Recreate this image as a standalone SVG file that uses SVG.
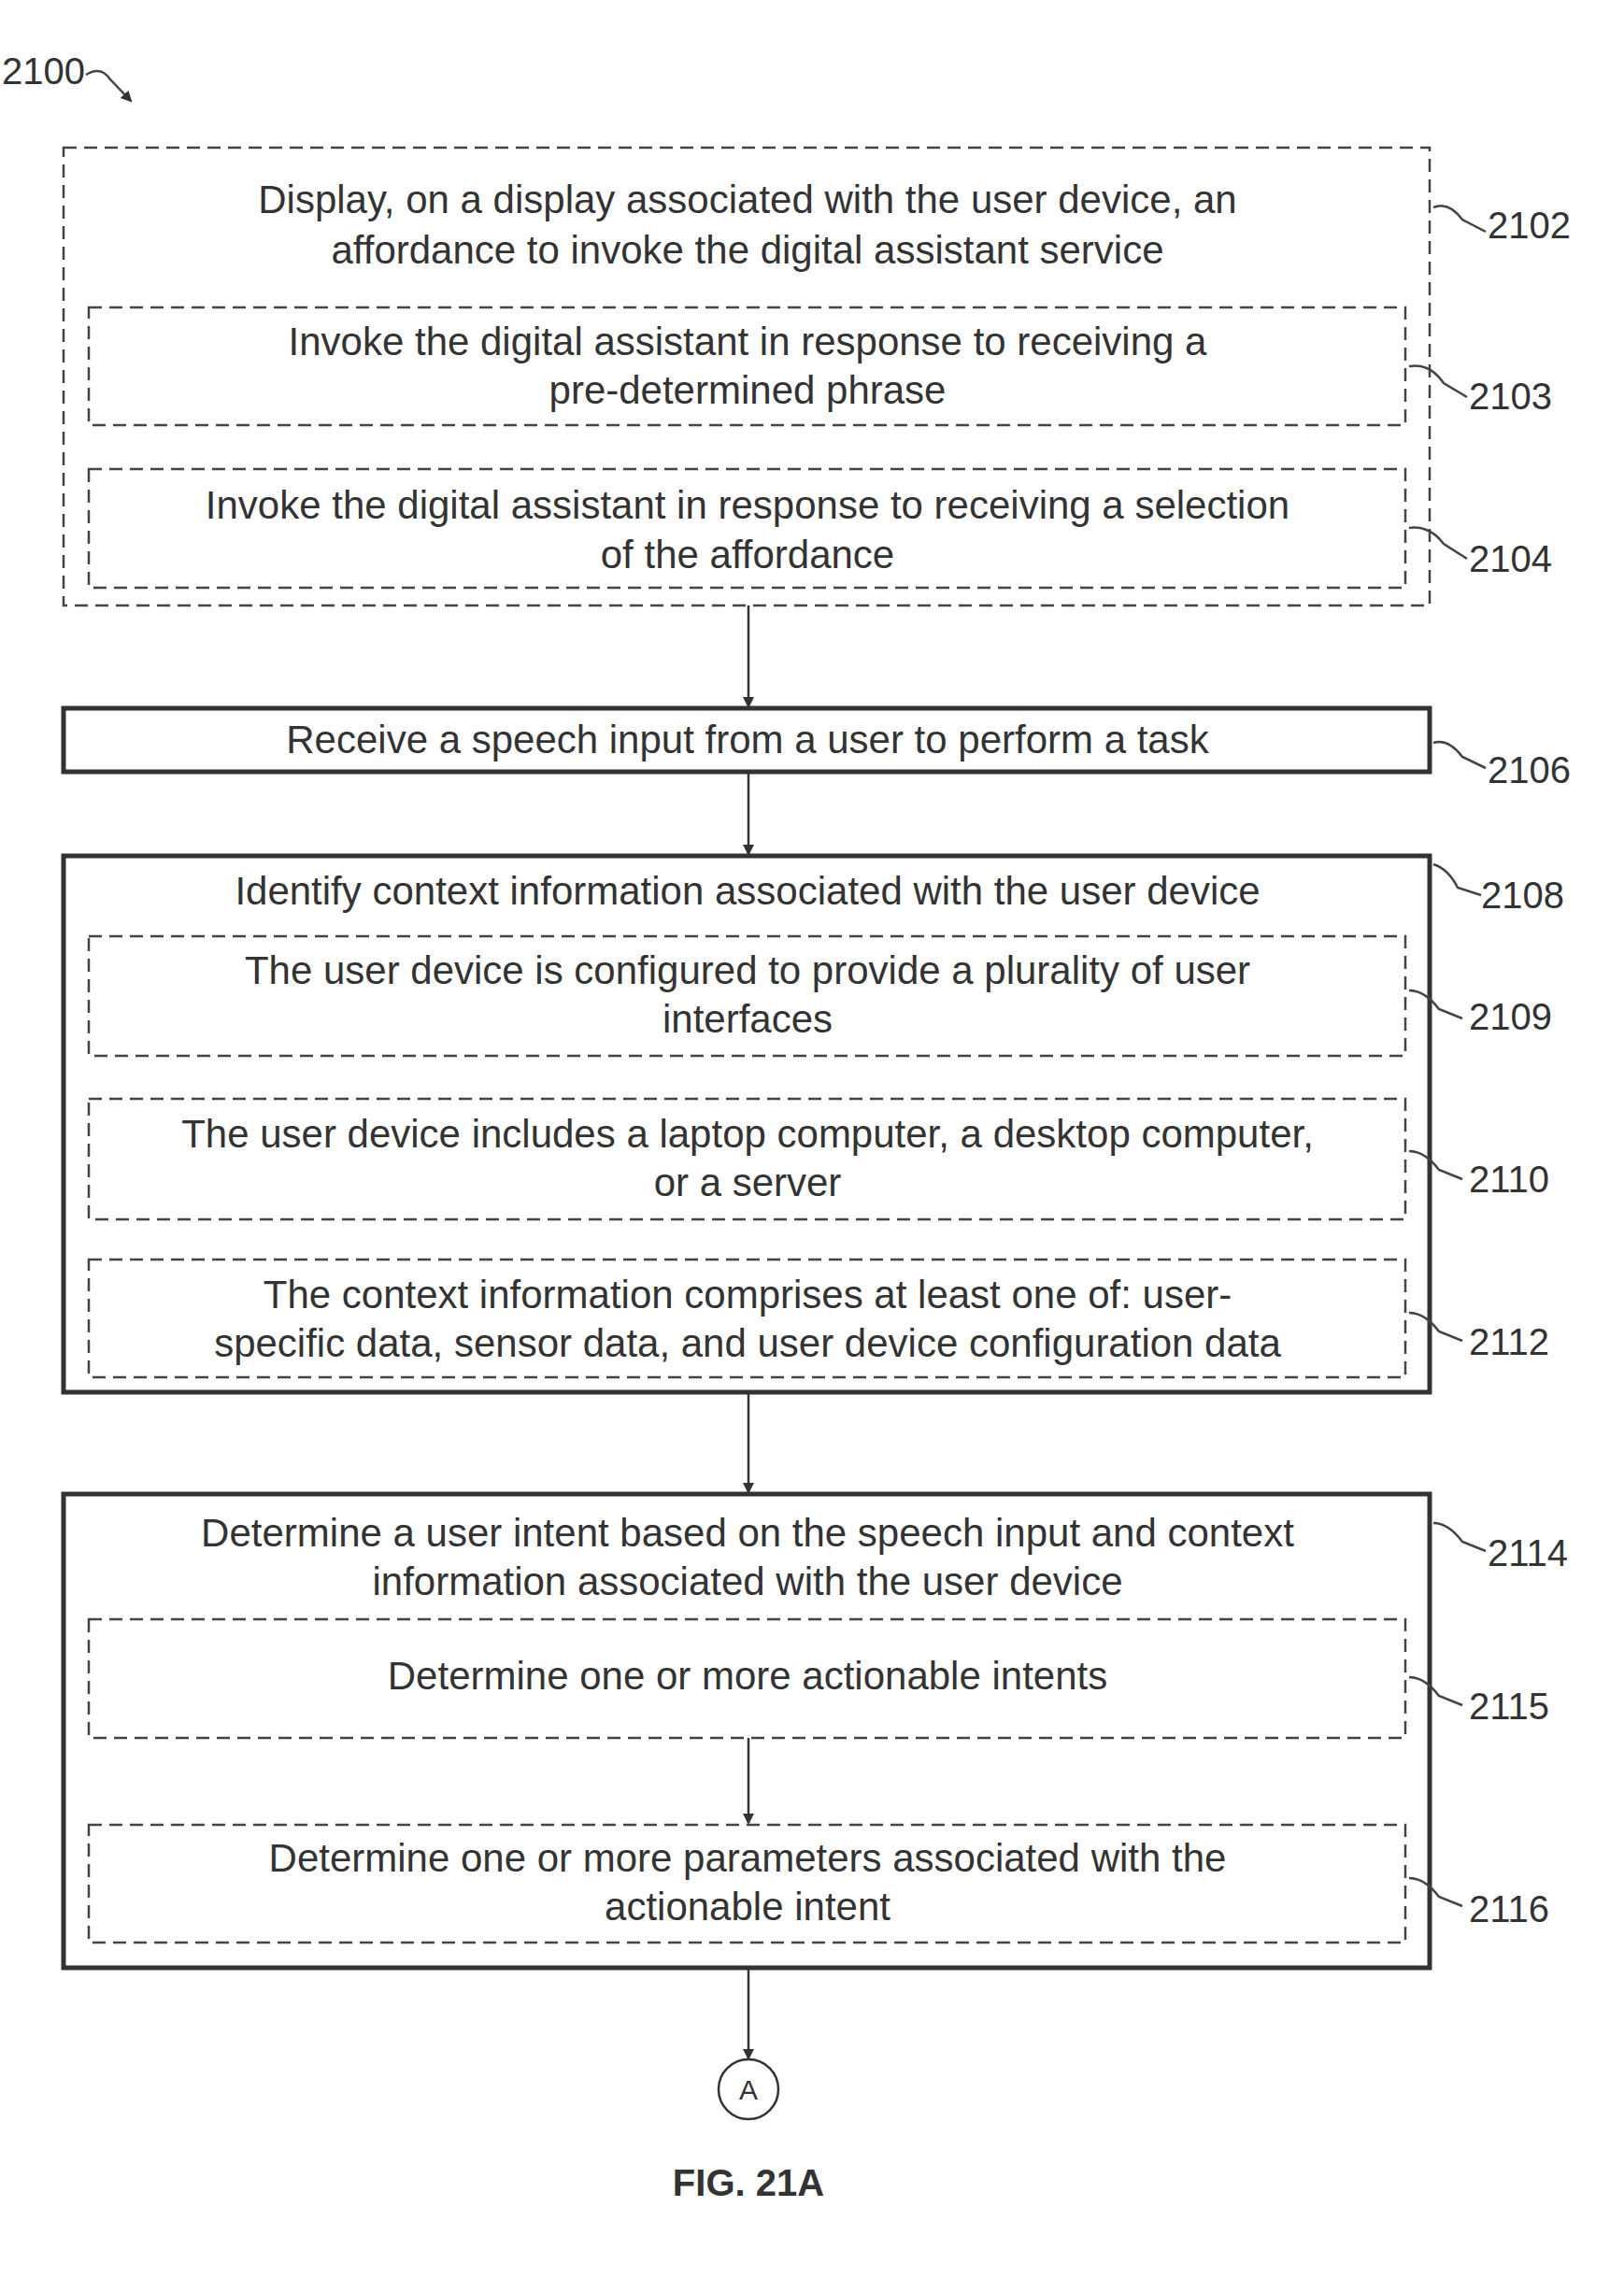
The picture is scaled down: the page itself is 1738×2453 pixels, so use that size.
<svg xmlns="http://www.w3.org/2000/svg" width="1738" height="2453" viewBox="0 0 1738 2453">
<style>
text{font-family:"Liberation Sans",Arial,sans-serif;font-size:42px;fill:#333;text-anchor:middle}
.lbl{text-anchor:start;font-size:40px}
.dash{fill:none;stroke:#444;stroke-width:2.5;stroke-dasharray:14 8}
.solid{fill:none;stroke:#333;stroke-width:5}
.lead{fill:none;stroke:#444;stroke-width:2.5}
.conn{stroke:#333;stroke-width:2.5;fill:none;marker-end:url(#ah)}
</style>
<defs><marker id="ah" markerWidth="12" markerHeight="12" refX="10" refY="6" orient="auto" markerUnits="userSpaceOnUse"><path d="M0,0 L12,6 L0,12 z" fill="#333"/></marker></defs>
<rect width="1738" height="2453" fill="#fff"/>
<g id="n2100"><text class="lbl" x="2" y="90">2100</text><path class="lead" d="M92,80 Q108,70 118,85 L140,108" marker-end="url(#ah)"/></g>
<g id="n2102"><rect class="dash" x="68" y="158" width="1462" height="490"/>
<text x="800" y="228">Display, on a display associated with the user device, an</text>
<text x="800" y="282">affordance to invoke the digital assistant service</text>
<path class="lead" d="M1534,222 Q1550,215 1565,235 L1590,248"/><text class="lbl" x="1592" y="255">2102</text></g>
<g id="n2103"><rect class="dash" x="95" y="329" width="1409" height="126"/>
<text x="800" y="380">Invoke the digital assistant in response to receiving a</text>
<text x="800" y="432">pre-determined phrase</text>
<path class="lead" d="M1508,392 Q1530,388 1545,410 L1570,425"/><text class="lbl" x="1572" y="438">2103</text></g>
<g id="n2104"><rect class="dash" x="95" y="502" width="1409" height="127"/>
<text x="800" y="555">Invoke the digital assistant in response to receiving a selection</text>
<text x="800" y="608">of the affordance</text>
<path class="lead" d="M1508,565 Q1530,562 1545,582 L1570,598"/><text class="lbl" x="1572" y="612">2104</text></g>
<g id="n2106"><rect class="solid" x="68" y="758" width="1462" height="68"/>
<text x="800" y="806">Receive a speech input from a user to perform a task</text>
<path class="lead" d="M1534,795 Q1550,790 1565,810 L1590,822"/><text class="lbl" x="1592" y="838">2106</text></g>
<g id="n2108"><rect class="solid" x="68" y="916" width="1462" height="574"/>
<text x="800" y="968">Identify context information associated with the user device</text>
<path class="lead" d="M1534,925 Q1550,930 1560,950 L1585,958"/><text class="lbl" x="1585" y="972">2108</text></g>
<g id="n2109"><rect class="dash" x="95" y="1002" width="1409" height="128"/>
<text x="800" y="1053">The user device is configured to provide a plurality of user</text>
<text x="800" y="1105">interfaces</text>
<path class="lead" d="M1508,1060 Q1525,1060 1540,1080 L1565,1090"/><text class="lbl" x="1572" y="1102">2109</text></g>
<g id="n2110"><rect class="dash" x="95" y="1176" width="1409" height="129"/>
<text x="800" y="1228">The user device includes a laptop computer, a desktop computer,</text>
<text x="800" y="1280">or a server</text>
<path class="lead" d="M1508,1232 Q1525,1232 1540,1252 L1565,1262"/><text class="lbl" x="1572" y="1276">2110</text></g>
<g id="n2112"><rect class="dash" x="95" y="1348" width="1409" height="126"/>
<text x="800" y="1400">The context information comprises at least one of: user-</text>
<text x="800" y="1452">specific data, sensor data, and user device configuration data</text>
<path class="lead" d="M1508,1405 Q1525,1405 1540,1425 L1565,1435"/><text class="lbl" x="1572" y="1450">2112</text></g>
<g id="n2114"><rect class="solid" x="68" y="1599" width="1462" height="507"/>
<text x="800" y="1655">Determine a user intent based on the speech input and context</text>
<text x="800" y="1707">information associated with the user device</text>
<path class="lead" d="M1534,1630 Q1550,1630 1565,1650 L1590,1660"/><text class="lbl" x="1592" y="1676">2114</text></g>
<g id="n2115"><rect class="dash" x="95" y="1733" width="1409" height="127"/>
<text x="800" y="1808">Determine one or more actionable intents</text>
<path class="lead" d="M1508,1795 Q1525,1795 1540,1815 L1565,1825"/><text class="lbl" x="1572" y="1840">2115</text></g>
<g id="n2116"><rect class="dash" x="95" y="1953" width="1409" height="126"/>
<text x="800" y="2003">Determine one or more parameters associated with the</text>
<text x="800" y="2055">actionable intent</text>
<path class="lead" d="M1508,2010 Q1525,2010 1540,2030 L1565,2040"/><text class="lbl" x="1572" y="2057">2116</text></g>
<g id="nA"><circle cx="801" cy="2236" r="32" fill="none" stroke="#333" stroke-width="2.5"/><text x="801" y="2247" style="font-size:30px">A</text></g>
<g id="fig"><text x="801" y="2350" style="font-size:40px;font-weight:bold">FIG. 21A</text></g>
<g id="connectors">
<line class="conn" x1="801" y1="648" x2="801" y2="756"/>
<line class="conn" x1="801" y1="828" x2="801" y2="914"/>
<line class="conn" x1="801" y1="1492" x2="801" y2="1597"/>
<line class="conn" x1="801" y1="1860" x2="801" y2="1951"/>
<line class="conn" x1="801" y1="2108" x2="801" y2="2203"/>
</g>
</svg>
